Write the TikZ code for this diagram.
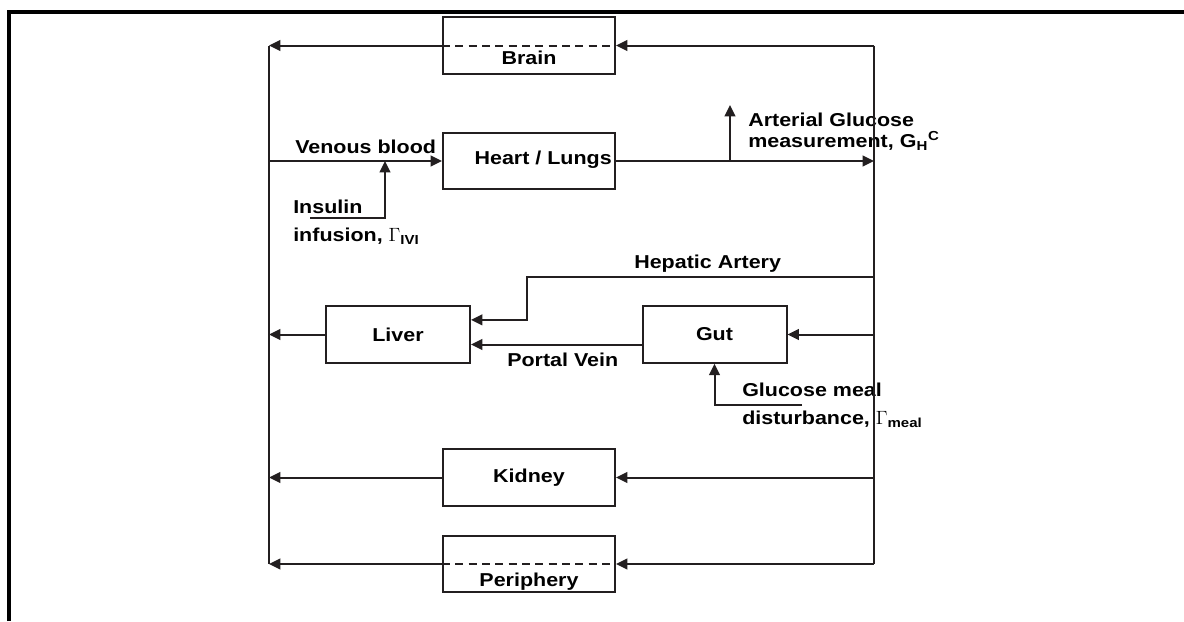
\documentclass[tikz,border=0pt]{standalone}
\usepackage[no-math]{fontspec}
\setmainfont{Liberation Sans}[FakeStretch=1.15]
\usepackage{amsmath}
\usetikzlibrary{arrows.meta, positioning}
\definecolor{lineBlack}{HTML}{231F20}
\tikzset{
  arrowK/.style={-{Triangle[length=8.5pt, width=8pt]}, lineBlack, line width=1.5pt},
  lineK/.style={lineBlack, line width=1.5pt},
  boxOrgan/.style={rectangle, draw=lineBlack, line width=1.5pt,
                   minimum width=129pt, minimum height=42.5pt, inner sep=0pt},
  boxSmall/.style={boxOrgan, minimum width=108pt},
  txtL/.style={anchor=base west, inner sep=0pt, align=left},
  txtTwo/.style={anchor=north west, inner sep=0pt, align=left},
}

\begin{document}
\begin{tikzpicture}[x=0.75pt, y=-0.75pt, font=\fontsize{14}{17}\selectfont\bfseries]
    \useasboundingbox (0,0) rectangle (1184,621);
    \draw[line width=2.6pt] (9,621) -- (9,12) -- (1184,12);

    \node[boxOrgan] (brain) at (529,45.5) {};
    \node[anchor=base, inner sep=0pt] (brainTxt) at ([yshift=-14.6pt]brain.center) {Brain};
    \node[boxOrgan, label={[anchor=mid east, inner sep=0pt, xshift=-3pt]east:Heart / Lungs}]
          (heart) at (529,161) {};
    \node[boxSmall] (liver) at (398,334.5) {Liver};
    \node[boxSmall] (gut) at (714.5,334.5) {Gut};
    \node[boxOrgan] (kidney) at (529,477.5) {Kidney};
    \node[boxOrgan] (periph) at (529,564) {};
    \node[anchor=base, inner sep=0pt] (periphTxt) at ([yshift=-17.2pt]periph.center) {Periphery};

    \node[txtL] (venous) at (295,153) {Venous blood};
    \node[txtL] (hepatic) at (634,268) {Hepatic Artery};
    \node[txtL] (portal) at (507,366) {Portal Vein};
    \node[txtTwo, font=\fontsize{14}{20.5}\selectfont\bfseries]
          (insulin) at (293,200) {Insulin\\infusion, $\Gamma_{\textbf{IVI}}$};
    \node[txtTwo, font=\fontsize{14}{15.5}\selectfont\bfseries]
          (arterial) at (748,113) {Arterial Glucose\\measurement, G$_{\textbf{H}}{}^{\textbf{C}}$};
    \node[txtTwo, font=\fontsize{14}{20.5}\selectfont\bfseries]
          (glucmeal) at (742,383) {Glucose meal\\disturbance, $\Gamma_{\textbf{meal}}$};

    \coordinate (lTop) at (269,45.5);
    \coordinate (lBot) at (269,564);
    \coordinate (rTop) at (874,45.5);
    \coordinate (rBot) at (874,564);
    \coordinate (tap) at (730,161);
    \coordinate (glucOut) at (730,105);
    \coordinate (ivi) at (310,218);
    \coordinate (iviIn) at (385,161);
    \coordinate (haOut) at (874,277);
    \coordinate (haBend) at (527,277);
    \coordinate (meal) at (802,405);

    \draw[lineK] (lTop) -- (lBot);
    \draw[lineK] (rTop) -- (rBot);

    \draw[arrowK] (rTop) -- (brain.east);
    \draw[lineK, dash pattern=on 6pt off 4pt] (brain.west) -- (brain.east);
    \draw[arrowK] (brain.west) -- (lTop);

    \draw[arrowK] (heart.west -| lTop) -- (heart.west);
    \draw[arrowK] (heart.east) -- (heart.east -| rTop);
    \draw[arrowK] (tap) -- (glucOut);
    \draw[arrowK] (ivi) -| (iviIn);

    \draw[arrowK] (haOut) -- (haBend) |- ([yshift=11pt]liver.east);
    \draw[arrowK] (gut.east -| rTop) -- (gut.east);
    \draw[arrowK] ([yshift=-7.5pt]gut.west) -- ([yshift=-7.5pt]liver.east);
    \draw[arrowK] (liver.west) -- (liver.west -| lTop);
    \draw[arrowK] (meal) -| (gut.south);

    \draw[arrowK] (kidney.east -| rTop) -- (kidney.east);
    \draw[arrowK] (kidney.west) -- (kidney.west -| lTop);

    \draw[arrowK] (rBot) -- (periph.east);
    \draw[lineK, dash pattern=on 6pt off 4pt] (periph.west) -- (periph.east);
    \draw[arrowK] (periph.west) -- (lBot);
  \end{tikzpicture}
\end{document}
